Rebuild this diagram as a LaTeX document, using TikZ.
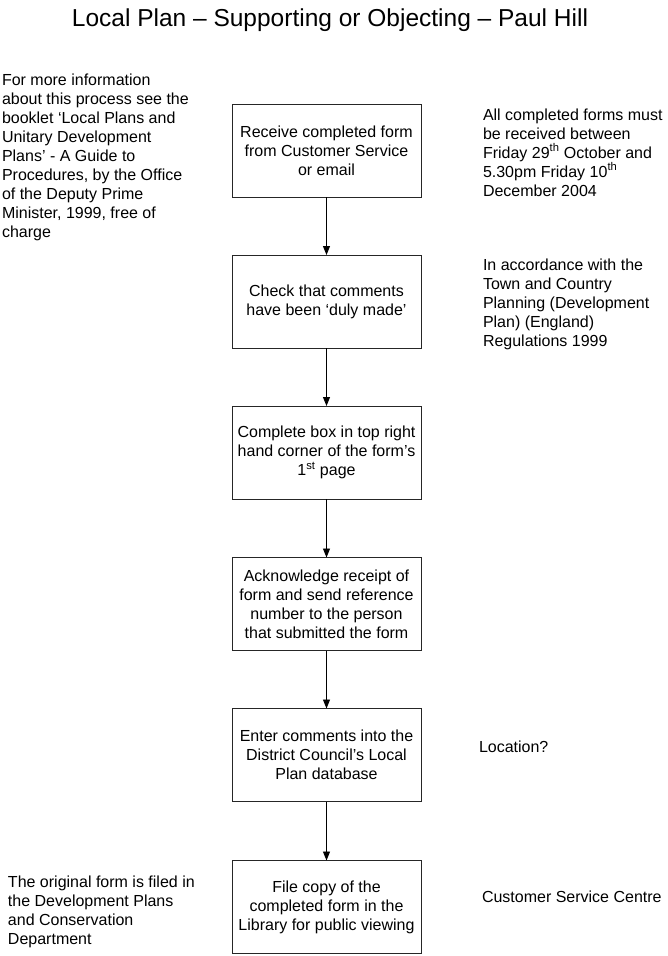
\documentclass[tikz,border=0pt]{standalone}
\usepackage{fontspec}
\setmainfont{Liberation Sans}
\usetikzlibrary{arrows.meta}
\begin{document}
\begin{tikzpicture}[x=1pt,y=-1pt,
  every node/.style={inner sep=0pt,outer sep=0pt},
  body/.style={font=\fontsize{16}{19}\selectfont},
  stepbox/.style={body,draw=black!85,line width=0.9pt,minimum width=189pt,minimum height=93pt,align=center},
  note/.style={body,align=left,anchor=north west},
  flow/.style={draw=black,line width=0.9pt,-{Triangle[length=9pt,width=7pt]}}]
\useasboundingbox (0,0) rectangle (667,956);
\node (title) at (330,20) {\fontsize{24.5}{28}\selectfont Local Plan – Supporting or Objecting – Paul Hill};
\node[stepbox] (b1) at (326.5,150.5) {Receive completed form\\from Customer Service\\or email};
\node[stepbox] (b2) at (326.5,301.5) {Check that comments\\have been ‘duly made’};
\node[stepbox] (b3) at (326.5,452.5) {Complete box in top right\\hand corner of the form’s\\1\textsuperscript{st} page};
\node[stepbox] (b4) at (326.5,604) {Acknowledge receipt of\\form and send reference\\number to the person\\that submitted the form};
\node[stepbox] (b5) at (326.5,755) {Enter comments into the\\District Council’s Local\\Plan database};
\node[stepbox] (b6) at (326.5,907) {File copy of the\\completed form in the\\Library for public viewing};
\draw[flow] (b1) -- (b2);
\draw[flow] (b2) -- (b3);
\draw[flow] (b3) -- (b4);
\draw[flow] (b4) -- (b5);
\draw[flow] (b5) -- (b6);
\node[note] (n1) at (2,73.5) {For more information\\about this process see the\\booklet ‘Local Plans and\\Unitary Development\\Plans’ - A Guide to\\Procedures, by the Office\\of the Deputy Prime\\Minister, 1999, free of\\charge};
\node[note] (n2) at (483,108.5) {All completed forms must\\be received between\\Friday 29\textsuperscript{th} October and\\5.30pm Friday 10\textsuperscript{th}\\December 2004};
\node[note] (n3) at (483,258.5) {In accordance with the\\Town and Country\\Planning (Development\\Plan) (England)\\Regulations 1999};
\node[body,anchor=west] (n4) at (479,747) {Location?};
\node[note] (n5) at (8,875.5) {The original form is filed in\\the Development Plans\\and Conservation\\Department};
\node[body,anchor=west] (n6) at (482,897) {Customer Service Centre};
\end{tikzpicture}
\end{document}
